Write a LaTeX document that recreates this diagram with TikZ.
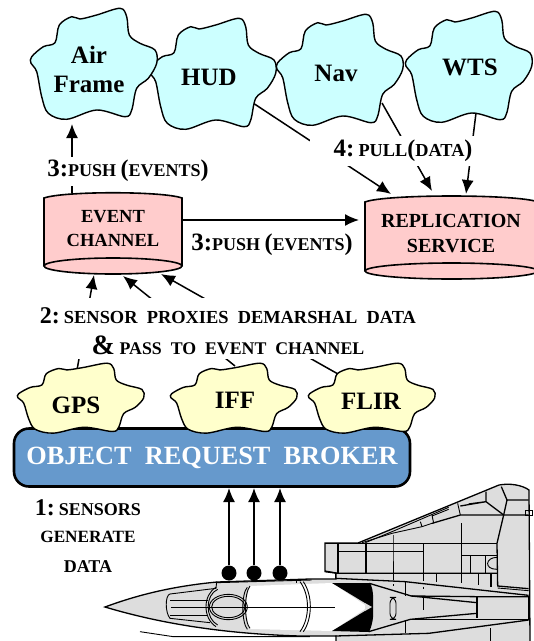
\documentclass[tikz,border=0pt]{standalone}
\usepackage{fontspec}
\setmainfont{Liberation Serif}
\usetikzlibrary{arrows.meta}
\definecolor{cloudblue}{HTML}{CCFFFF}
\definecolor{cloudyellow}{HTML}{FFFFCC}
\definecolor{cylpink}{HTML}{FFCCCC}
\definecolor{orbblue}{HTML}{6699CC}
\definecolor{planegray}{HTML}{DDDDDD}
\newcommand{\fsz}[1]{\fontsize{#1}{#1}\selectfont}
\newcommand{\cloudshape}[5]{%
  \filldraw[cloudline,fill=#5,shift={(#1,#2)},xscale=#3,yscale=#4]
  plot[smooth cycle,tension=0.55] coordinates {(0.7,48.7)(12.3,38.7)(24,34.7)(28.3,17)(40.7,8.7)(49,11)(65.7,7)(89,0.3)(95.7,8.7)(98.3,27)(109,35.3)(124,42)(125.7,55.3)(117.3,70.3)(105.7,80.3)(100.7,102)(94,108.7)(65.7,102)(35.7,111.3)(17.3,105.3)(10.7,88.7)(5.7,63.7)(0,55.3)};}
\newcommand{\cylshape}[5]{% left right sidetop centertop centerbottom
  \path[fill=cylpink] (#1,#3) .. controls (#1+20,#4-1) and (#2-20,#4-1) .. (#2,#3) -- (#2,#5) arc[start angle=0,end angle=180,x radius={(#2-#1)/2},y radius=8] -- cycle;
  \draw[cylline] (#1,#5) -- (#1,#3) .. controls (#1+20,#4-1) and (#2-20,#4-1) .. (#2,#3) -- (#2,#5);
  \draw[cylline] ({(#1+#2)/2},#5) ellipse[x radius={(#2-#1)/2},y radius=8];}
\tikzset{
  cloudline/.style={draw=black,line width=1.4pt},
  cylline/.style={draw=black,line width=1.6pt},
  link/.style={draw=black,line width=1.5pt},
  pointer/.style={link,-{Latex[length=14pt,width=12pt]}},
  bigbold/.style={font=\fsz{25}\bfseries,inner sep=0pt,align=center},
  midbold/.style={font=\bfseries,inner sep=0pt,align=center},
  caption/.style={fill=white,inner xsep=1pt,inner ysep=0pt,font=\bfseries,align=center},
  plane/.style={draw=black,line width=0.9pt},
  planethick/.style={draw=black,line width=1.3pt},
  dot/.style={circle,fill=black,minimum size=15pt,inner sep=0pt}
}
\begin{document}
\begin{tikzpicture}[x=1pt,y=-1pt]
\useasboundingbox (0,0) rectangle (534,641);
\clip (0,0) rectangle (534,641);
% ---------- aircraft
\fill[planegray] (105,607) .. controls (140,594) and (175,586) .. (217,582) -- (310,579) -- (336,579) -- (336,573) -- (325,571) -- (325,543) -- (358,543) -- (499,485) .. controls (510,483) and (522,485) .. (529,490) -- (530,641) -- (336,641) -- (336,636) -- (300,636) .. controls (230,634) and (165,625) .. (105,607) -- cycle;
\draw[planethick] (336,641) -- (336,636) -- (300,636) .. controls (230,634) and (165,625) .. (105,607) .. controls (140,594) and (175,586) .. (217,582) -- (310,579) -- (336,579) -- (336,573) -- (325,571) -- (325,543) -- (358,543) -- (499,485) .. controls (510,483) and (522,485) .. (529,490) -- (530,641);
% white glazing and black wedge
\fill[white] (250,586) -- (332,583) -- (368,607) -- (332,631) -- (250,629) .. controls (245,615) and (245,600) .. (250,586) -- cycle;
\fill[black] (332,583) -- (370,583) .. controls (374,590) and (373,600) .. (373,607) .. controls (374,617) and (372,626) .. (369,632) -- (332,631) -- (365,611) -- (367,607) -- (365,603) -- cycle;
\fill[planegray] (365,603) -- (372,607) -- (365,611) -- cycle;
\begin{scope}[shift={(90,480)},scale=0.33333]
 \draw[plane] (380,305) -- (378,325) -- (240,342) .. controls (225,345) and (225,398) .. (240,415) -- (360,428);
 \draw[plane] (240,360) -- (355,360) (240,405) -- (355,405);
 \draw[plane] (243,381) -- (640,381);
 \draw[plane] (415,381) ellipse[x radius=57,y radius=38];
 \draw[plane] (415,381) ellipse[x radius=50,y radius=32];
 \draw[plane] (383,328) .. controls (345,345) and (345,415) .. (383,435);
 \draw[plane] (378,322) .. controls (338,345) and (338,415) .. (378,440);
 \draw[plane] (480,318) .. controls (462,340) and (462,425) .. (480,445);
 \draw[plane] (472,322) .. controls (454,340) and (454,425) .. (472,448);
 \draw[plane] (630,305) .. controls (660,345) and (660,415) .. (630,455);
 \draw[plane] (640,305) .. controls (668,345) and (668,415) .. (640,455);
 \draw[plane] (380,308) -- (665,300);
 \draw[plane] (620,298) -- (620,310);
 \draw[plane] (150,455) -- (250,470) .. controls (350,470) and (500,470) .. (660,470);
 \draw[plane] (640,381) -- (735,381);
\end{scope}
\begin{scope}[shift={(312,480)},scale=0.33333]
 \draw[plane] (38,190) -- (555,190);
 \draw[planethick] (78,190) -- (78,280) (162,190) -- (162,280) (335,190) -- (335,280);
 \draw[plane] (243,165) .. controls (243,175) and (243,180) .. (243,190) -- (243,300);
 \draw[plane] (78,215) -- (335,215);
 \draw[planethick] (38,275) -- (78,280) -- (555,280);
 \draw[plane] (448,130) -- (448,310);
 \draw[plane] (448,225) -- (555,225);
 \draw[plane] (475,225) -- (475,280) (520,225) -- (520,280);
 \draw[planethick] (500,280) -- (500,315) (537,280) -- (537,322);
 \draw[plane] (373,280) -- (373,305) (335,280) -- (335,303);
 \draw[plane] (555,232) .. controls (520,232) and (515,268) .. (555,268);
 \draw[planethick] (555,190) -- (575,105) (555,190) -- (557,318) -- (650,326);
 \draw[plane] (557,324) -- (650,332);
 \draw[planethick] (360,130) -- (445,105) -- (650,105);
 \draw[planethick] (575,105) -- (585,60) -- (568,20) (585,60) -- (650,60);
 \draw[planethick] (522,35) -- (522,65) -- (575,105) (470,72) -- (522,65) -- (445,78);
 \draw[plane] (437,70) -- (445,105) (360,105) -- (365,130) (325,125) -- (330,140);
 \draw[plane] (330,140) -- (360,130) (240,160) -- (330,140);
 \draw[plane] (160,188) -- (240,155) -- (410,82);
 \draw[plane] (150,188) -- (240,160) (410,88) -- (360,108);
 \draw[plane] (640,90) rectangle (660,105);
 \draw[planethick] (70,295) -- (280,305) -- (650,346);
 \draw[plane] (70,280) -- (70,298);
 \draw[planethick] (172,310) -- (298,348) -- (495,350) -- (650,350) -- (650,418);
 \draw[planethick] (298,348) -- (495,368);
 \draw[planethick] (495,350) -- (495,415);
 \draw[planethick] (170,455) -- (295,418) -- (495,400);
 \draw[planethick] (295,418) -- (650,418);
 \draw[planethick] (70,468) -- (350,460) -- (650,420);
 \draw[plane] (280,305) -- (280,348) (280,420) -- (280,460) (335,350) -- (335,390);
 \draw[plane,rounded corners=6pt] (234,352) rectangle (252,418);
 \draw[planethick] (535,445) -- (535,483);
 \draw[plane] (243,312) -- (243,318) (335,320) -- (335,326);
\end{scope}
% ---------- anchor points of connectors
\coordinate (airport) at (72,124);
\coordinate (evtup) at (72,193);
\coordinate (evtright) at (183,220);
\coordinate (repleft) at (359,220);
\coordinate (hudport) at (253,103);
\coordinate (navport) at (382,103);
\coordinate (wtsport) at (476,113);
\coordinate (repa) at (391,194);
\coordinate (repb) at (432,191);
\coordinate (repc) at (466,194);
\coordinate (gpsport) at (77,370);
\coordinate (iffport) at (235,366);
\coordinate (flirport) at (338,374);
\coordinate (evta) at (94,275);
\coordinate (evtb) at (123,276);
\coordinate (evtc) at (161,274);
\coordinate (orba) at (229,488);
\coordinate (orbb) at (254,488);
\coordinate (orbc) at (280,488);
% ---------- connectors
\draw[pointer] (evtup) -- (airport);
\draw[pointer] (evtright) -- (repleft);
\draw[pointer] (hudport) -- (repa);
\draw[pointer] (navport) -- (repb);
\draw[pointer] (wtsport) -- (repc);
\draw[pointer] (gpsport) -- (evta);
\draw[pointer] (iffport) -- (evtb);
\draw[pointer] (flirport) -- (evtc);
% ---------- captions with white background
\node[caption,anchor=center,minimum height=29pt] (lpushb) at (128,171) {{\fsz{25}3:}{\fsz{18}PUSH }{\fsz{24}(}{\fsz{18}EVENTS}{\fsz{24})}};
\node[caption,anchor=center,minimum height=30pt,inner xsep=24pt] (lpull) at (403,150.5) {{\fsz{25}4:\,}{\fsz{18.3}PULL}{\fsz{24}(}{\fsz{18.3}DATA}{\fsz{24})}};
\node[caption,inner xsep=0pt,minimum height=61pt,minimum width=385pt] (lproxy) at (228,328) {};
\node[midbold,anchor=center] (lproxya) at (228,316) {{\fsz{24}2:\,}{\fsz{18.4}SENSOR\ \ PROXIES\ \ DEMARSHAL\ \ DATA}};
\node[midbold,anchor=center] (lproxyb) at (228,345) {{\fsz{28}\&\,}{\fsz{17.8}PASS\ \ TO\ \ EVENT\ \ CHANNEL}};
\node[midbold,anchor=center] (lpusha) at (272,245) {{\fsz{25}3:}{\fsz{18}PUSH }{\fsz{24}(}{\fsz{18}EVENTS}{\fsz{24})}};
% ---------- clouds
\cloudshape{150}{18}{1}{1}{cloudblue}
\cloudshape{31}{8}{1}{1}{cloudblue}
\cloudshape{277}{14}{1}{1}{cloudblue}
\cloudshape{406}{11}{1}{1}{cloudblue}
\node[bigbold] (air) at (89,69) {Air\\[4pt]Frame};
\node[bigbold] (hud) at (209,77) {HUD};
\node[bigbold] (nav) at (336,73) {Nav};
\node[bigbold] (wts) at (470,67) {WTS};
% ---------- cylinders
\cylshape{44}{182}{198}{192}{266}
\node[midbold,font=\fsz{18.5}\bfseries] (evtlabel) at (113,228.5) {EVENT\\[6pt]CHANNEL};
\cylshape{365}{538}{202}{195}{271}
\node[midbold,font=\fsz{20}\bfseries] (replabel) at (451,233.5) {REPLICATION\\[5pt]SERVICE};
% ---------- ORB
\node[draw=black,line width=2.6pt,fill=orbblue,rounded corners=15pt,minimum width=396pt,minimum height=58pt,inner sep=0pt,text=white,font=\fsz{26.3}\bfseries] (orb) at (212,457.5) {OBJECT\ \ REQUEST\ \ BROKER};
% ---------- sensor clouds
\cloudshape{18}{363}{1}{0.63}{cloudyellow}
\cloudshape{171}{363}{1}{0.63}{cloudyellow}
\cloudshape{309}{363}{1}{0.63}{cloudyellow}
\node[bigbold] (gps) at (76,405) {GPS};
\node[bigbold] (iff) at (235,400) {IFF};
\node[bigbold] (flir) at (371,401) {FLIR};
% ---------- sensor arrows
\node[dot] (dota) at (229,573) {};
\node[dot] (dotb) at (254,573) {};
\node[dot] (dotc) at (280,573) {};
\draw[pointer] (dota) -- (orba);
\draw[pointer] (dotb) -- (orbb);
\draw[pointer] (dotc) -- (orbc);
% ---------- step 1 text
\node[midbold,anchor=center] (sa) at (88,508) {{\fsz{24}1:\,}{\fsz{18}SENSORS}};
\node[midbold,anchor=center,font=\fsz{17.2}\bfseries] (sb) at (88,537) {GENERATE};
\node[midbold,anchor=center,font=\fsz{18}\bfseries] (sc) at (88,567) {DATA};
\end{tikzpicture}
\end{document}
